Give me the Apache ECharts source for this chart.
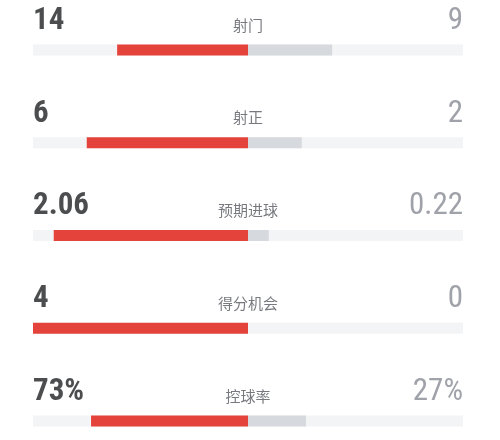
<!DOCTYPE html>
<html>
<head>
<meta charset="utf-8">
<script src="https://cdn.jsdelivr.net/npm/echarts@6/dist/echarts.min.js"></script>
<style>
  html, body { margin: 0; padding: 0; background: #fff; }
  #main { width: 500px; height: 440px; }
</style>
</head>
<body>
<div id="main"></div>
<script>
const categories = ['射门', '射正', '预期进球', '得分机会', '控球率']
const homeValues = [14, 6, 2.06, 4, 73]
const awayValues = [9, 2, 0.22, 0, 27]
const homeLabels = ['14', '6', '2.06', '4', '73%']
const awayLabels = ['9', '2', '0.22', '0', '27%']

// 每行按两队占比画左右两段
const homeShare = homeValues.map((v, i) => -v / (v + awayValues[i]))
const awayShare = awayValues.map((v, i) => v / (homeValues[i] + v))

const numFont = '"Roboto Condensed", "Liberation Sans Narrow", "DejaVu Sans Condensed", sans-serif'

const chart = echarts.init(document.getElementById('main'))

const option = {
  animation: false,
  grid: { left: 33, right: 37, top: 50, bottom: 19 },
  xAxis: { type: 'value', min: -1, max: 1, show: false },
  yAxis: { type: 'category', data: categories, inverse: true, boundaryGap: false, show: false },
  series: [
    {
      type: 'bar',
      stack: 'share',
      data: homeShare,
      barWidth: 11,
      showBackground: true,
      backgroundStyle: { color: '#f3f4f6' },
      itemStyle: { color: '#e4433b' }
    },
    {
      type: 'bar',
      stack: 'share',
      data: awayShare,
      barWidth: 11,
      itemStyle: { color: '#d6d9de' }
    },
    {
      type: 'scatter',
      symbolSize: 0,
      data: categories.map((c, i) => [-1, c, homeLabels[i]]),
      label: {
        show: true,
        position: 'right',
        distance: 0,
        offset: [0, -29],
        formatter: p => p.data[2],
        fontFamily: numFont,
        fontSize: 31,
        fontWeight: 'bold',
        color: '#1f2023'
      }
    },
    {
      type: 'scatter',
      symbolSize: 0,
      data: categories.map(c => [0, c]),
      label: {
        show: true,
        position: 'inside',
        offset: [0, -25],
        formatter: p => p.data[1],
        fontFamily: '"Noto Sans CJK SC", sans-serif',
        fontSize: 15,
        color: '#55585e'
      }
    },
    {
      type: 'scatter',
      symbolSize: 0,
      data: categories.map((c, i) => [1, c, awayLabels[i]]),
      label: {
        show: true,
        position: 'left',
        distance: 0,
        offset: [0, -29],
        formatter: p => p.data[2],
        fontFamily: numFont,
        fontSize: 31,
        color: '#878b93'
      }
    }
  ]
}

chart.setOption(option)
</script>
</body>
</html>
